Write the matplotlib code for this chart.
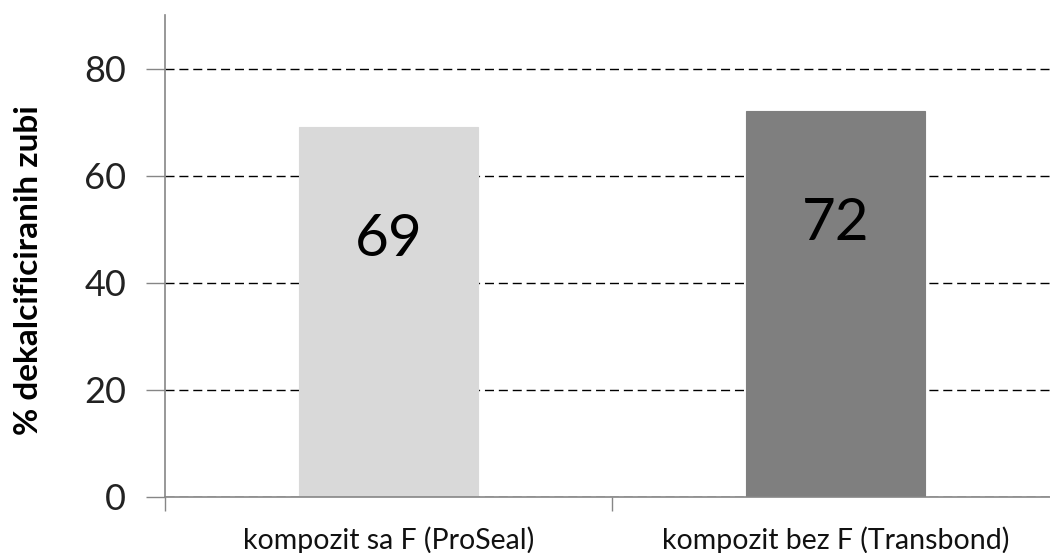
import matplotlib
matplotlib.use("Agg")
import matplotlib.pyplot as plt
import numpy as np

# data
categories = ["kompozit sa F (ProSeal)", "kompozit bez F (Transbond)"]
values = [69, 72]
bar_colors = ["#d9d9d9", "#7f7f7f"]
y_ticks = [0, 20, 40, 60, 80]

plt.rcParams["font.family"] = ["Lato", "DejaVu Sans"]

fig = plt.figure(figsize=(10.5, 5.53), dpi=100)
ax = fig.add_axes([165 / 1050, 1 - 497 / 553, 894 / 1050, 482 / 553])

x = np.arange(len(categories))
bars = ax.bar(x, values, width=0.40, color=bar_colors, edgecolor=bar_colors,
              linewidth=0.8, zorder=3)

ax.set_xlim(-0.5, 1.5)
ax.set_ylim(0, 90)
ax.set_yticks(y_ticks)
ax.set_yticklabels([str(t) for t in y_ticks], fontsize=26, color="#222222")
ax.grid(True, axis="y", linestyle=(0, (6.5, 3.5)), color="black", linewidth=1.0, zorder=1)

# category ticks sit on the boundaries
ax.set_xticks([-0.5, 0.5, 1.5])
ax.set_xticklabels([])
ax.set_xticks(x, minor=True)
ax.set_xticklabels(categories, minor=True, fontsize=20.5, color="#111111")
ax.tick_params(axis="x", which="major", length=10, width=1, color="#868686", direction="out")
ax.tick_params(axis="x", which="minor", length=0, pad=21)
ax.tick_params(axis="y", length=14, width=1, color="#868686", direction="out", pad=14)

for side in ("top", "right"):
    ax.spines[side].set_visible(False)
for side in ("left", "bottom"):
    ax.spines[side].set_color("#868686")
    ax.spines[side].set_linewidth(1.2)
    ax.spines[side].set_zorder(4)

ax.set_ylabel("% dekalcificiranih zubi", fontsize=24, fontweight="bold")
ax.yaxis.set_label_coords(-0.137, 0.47)

for bar, v in zip(bars, values):
    ax.text(bar.get_x() + bar.get_width() / 2, v - 21, str(v), ha="center",
            va="center", fontsize=42, color="black", zorder=5)

fig.savefig("out.png", dpi=100)
